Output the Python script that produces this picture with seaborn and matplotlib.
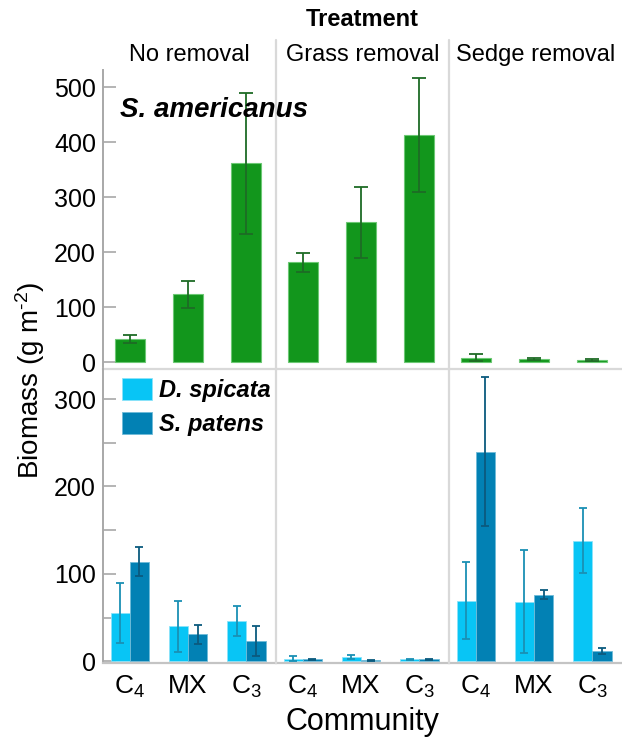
import matplotlib
matplotlib.use("Agg")
import matplotlib.pyplot as plt
from matplotlib.lines import Line2D
from matplotlib.patches import Patch
import seaborn as sns
import pandas as pd

# ---- data -------------------------------------------------------------
communities = ["C4", "MX", "C3"]
community_labels = ["C$_4$", "MX", "C$_3$"]
treatments = ["No removal", "Grass removal", "Sedge removal"]
species_low = ["D. spicata", "S. patens"]

# S. americanus biomass (mean, SE) per treatment, ordered as communities
sam_no = [42, 123, 361]
sam_no_se = [7, 25, 128]
sam_grass = [181, 254, 413]
sam_grass_se = [18, 65, 103]
sam_sedge = [8, 5, 4]
sam_sedge_se = [6, 2, 2]

# D. spicata biomass (mean, SE)
dsp_no = [55, 40, 46]
dsp_no_se = [34, 29, 17]
dsp_grass = [3, 5, 2]
dsp_grass_se = [3, 2, 0.5]
dsp_sedge = [69, 68, 138]
dsp_sedge_se = [44, 59, 37]

# S. patens biomass (mean, SE)
spa_no = [114, 31, 23]
spa_no_se = [17, 11, 17]
spa_grass = [2, 1, 2]
spa_grass_se = [1, 0.5, 0.5]
spa_sedge = [240, 76, 12]
spa_sedge_se = [85, 5, 3.5]

sam_means = [sam_no, sam_grass, sam_sedge]
sam_ses = [sam_no_se, sam_grass_se, sam_sedge_se]
dsp_means = [dsp_no, dsp_grass, dsp_sedge]
dsp_ses = [dsp_no_se, dsp_grass_se, dsp_sedge_se]
spa_means = [spa_no, spa_grass, spa_sedge]
spa_ses = [spa_no_se, spa_grass_se, spa_sedge_se]

# ---- style ------------------------------------------------------------
sns.set_theme(style="white")
plt.rcParams["font.family"] = ["Liberation Sans", "DejaVu Sans"]
plt.rcParams["mathtext.fontset"] = "custom"
plt.rcParams["mathtext.rm"] = "Liberation Sans"
plt.rcParams["mathtext.it"] = "Liberation Sans:italic"
plt.rcParams["mathtext.bf"] = "Liberation Sans:bold"
plt.rcParams["text.color"] = "black"
plt.rcParams["axes.labelcolor"] = "black"
plt.rcParams["xtick.color"] = "black"
plt.rcParams["ytick.color"] = "black"

GREEN, GREEN_ERR, GREEN_EDGE = "#12961c", "#1e6b25", "#6cc874"
LIGHT, LIGHT_ERR, LIGHT_EDGE = "#08c5f5", "#1a90b4", "#8be3fa"
DARK, DARK_ERR, DARK_EDGE = "#0281b4", "#0b5a7e", "#6fbbd8"
AXIS_GREY = "#a8a8a8"
SEP_GREY = "#d9d9d9"

W, H = 622, 743
fig = plt.figure(figsize=(W / 100, H / 100), dpi=100)


def box(x0, y0, x1, y1):
    return [x0 / W, 1 - y1 / H, (x1 - x0) / W, (y1 - y0) / H]


col_x = [(103, 276), (276, 449), (449, 622)]
row_y = [(70, 369), (369, 662.5)]


def add_errors(ax, containers, ses, colors, cap):
    for cont, se, col in zip(containers, ses, colors):
        xs = [b.get_x() + b.get_width() / 2 for b in cont]
        ys = [b.get_height() for b in cont]
        ax.errorbar(xs, ys, yerr=se, fmt="none", ecolor=col, elinewidth=1.3,
                    capsize=cap, capthick=1.3, zorder=4)


for j, treat in enumerate(treatments):
    # top row: S. americanus
    ax = fig.add_axes(box(col_x[j][0], row_y[0][0], col_x[j][1], row_y[0][1]))
    ax.patch.set_alpha(0)
    df_top = pd.DataFrame({"community": communities, "biomass": sam_means[j]})
    sns.barplot(data=df_top, x="community", y="biomass", order=communities,
                color=GREEN, saturation=1, width=0.52, errorbar=None,
                edgecolor=GREEN_EDGE, linewidth=0.8, ax=ax)
    add_errors(ax, ax.containers[:1], [sam_ses[j]], [GREEN_ERR], 5)
    ax.set_ylim(-12.7, 531)
    ax.set_yticks([0, 100, 200, 300, 400, 500])
    ax.set_xlim(-0.46, 2.51)
    ax.set_xticks([])
    ax.set_xlabel("")
    ax.set_ylabel("")
    for s in ax.spines.values():
        s.set_visible(False)
    ax.spines["bottom"].set_visible(True)
    ax.spines["bottom"].set_color(SEP_GREY)
    ax.spines["bottom"].set_linewidth(1.6)
    if j == 0:
        ax.spines["left"].set_visible(True)
        ax.spines["left"].set_color(AXIS_GREY)
        ax.spines["left"].set_linewidth(1.4)
        ax.tick_params(axis="y", direction="in", length=9, width=1.2,
                       color=AXIS_GREY, labelcolor="black", labelsize=18,
                       pad=5, left=True)
    else:
        ax.tick_params(axis="y", left=False, labelleft=False)

    # bottom row: D. spicata and S. patens
    ax2 = fig.add_axes(box(col_x[j][0], row_y[1][0], col_x[j][1], row_y[1][1]))
    ax2.patch.set_alpha(0)
    df_low = pd.DataFrame({
        "community": communities * 2,
        "species": [species_low[0]] * 3 + [species_low[1]] * 3,
        "biomass": dsp_means[j] + spa_means[j],
    })
    sns.barplot(data=df_low, x="community", y="biomass", hue="species",
                order=communities, hue_order=species_low,
                palette=[LIGHT, DARK], saturation=1, width=0.66, errorbar=None,
                linewidth=0.6, legend=False, ax=ax2)
    for cont, ec in zip(ax2.containers, [LIGHT_EDGE, DARK_EDGE]):
        for b in cont:
            b.set_edgecolor(ec)
    add_errors(ax2, ax2.containers[:2], [dsp_ses[j], spa_ses[j]],
               [LIGHT_ERR, DARK_ERR], 3.2)
    ax2.set_ylim(-1.5, 334.5)
    ax2.set_yticks([0, 100, 200, 300])
    ax2.set_yticks([50, 150, 250], minor=True)
    ax2.set_xlim(-0.46, 2.51)
    ax2.set_xticks(range(3))
    ax2.set_xticklabels(community_labels)
    ax2.tick_params(axis="x", length=0, labelsize=19, pad=8,
                    labelcolor="black")
    ax2.set_xlabel("")
    ax2.set_ylabel("")
    for s in ax2.spines.values():
        s.set_visible(False)
    ax2.spines["bottom"].set_visible(True)
    ax2.spines["bottom"].set_color("#c4c4c4")
    ax2.spines["bottom"].set_linewidth(1.6)
    if j == 0:
        ax2.spines["left"].set_visible(True)
        ax2.spines["left"].set_color(AXIS_GREY)
        ax2.spines["left"].set_linewidth(1.4)
        ax2.tick_params(axis="y", which="both", direction="in", length=9,
                        width=1.2, color=AXIS_GREY, labelcolor="black",
                        labelsize=18, pad=5, left=True)
        handles = [Patch(facecolor=LIGHT, edgecolor=LIGHT_EDGE, linewidth=0.6),
                   Patch(facecolor=DARK, edgecolor=DARK_EDGE, linewidth=0.6)]
        leg = ax2.legend(handles, species_low, loc="upper left",
                         bbox_to_anchor=(0.11, 0.969), frameon=False,
                         borderpad=0, borderaxespad=0, handlelength=1.27,
                         handleheight=1.06, labelspacing=0.42,
                         handletextpad=0.28,
                         prop={"size": 17, "weight": "bold", "style": "italic"})
        for t in leg.get_texts():
            t.set_color("black")
    else:
        ax2.tick_params(axis="y", which="both", left=False, labelleft=False)

# panel separators between treatment columns
for xs in (276, 449):
    fig.add_artist(Line2D([xs / W, xs / W], [1 - 40 / H, 1 - 662.5 / H],
                          transform=fig.transFigure, color=SEP_GREY, lw=1.6))

# species name for the upper row, spanning into the next column
fig.text(120 / W, 1 - 110 / H, "S. americanus", fontsize=20,
         fontweight="bold", fontstyle="italic", va="center", ha="left",
         color="black", zorder=10)

# column headers and shared labels
fig.text(362.5 / W, 1 - 20 / H, "Treatment", ha="center", va="center",
         fontsize=17, fontweight="bold", color="black")
for j, treat in enumerate(treatments):
    cx = (col_x[j][0] + col_x[j][1]) / 2
    fig.text(cx / W, 1 - 55 / H, treat, ha="center", va="center",
             fontsize=17, color="black")
fig.text(362.5 / W, 1 - 722 / H, "Community", ha="center", va="center",
         fontsize=22, color="black")
fig.text(30 / W, 1 - 380 / H, r"Biomass (g m$^{\text{-2}}$)", ha="center",
         va="center", rotation=90, fontsize=20, color="black")

fig.savefig("out.png", dpi=100)
